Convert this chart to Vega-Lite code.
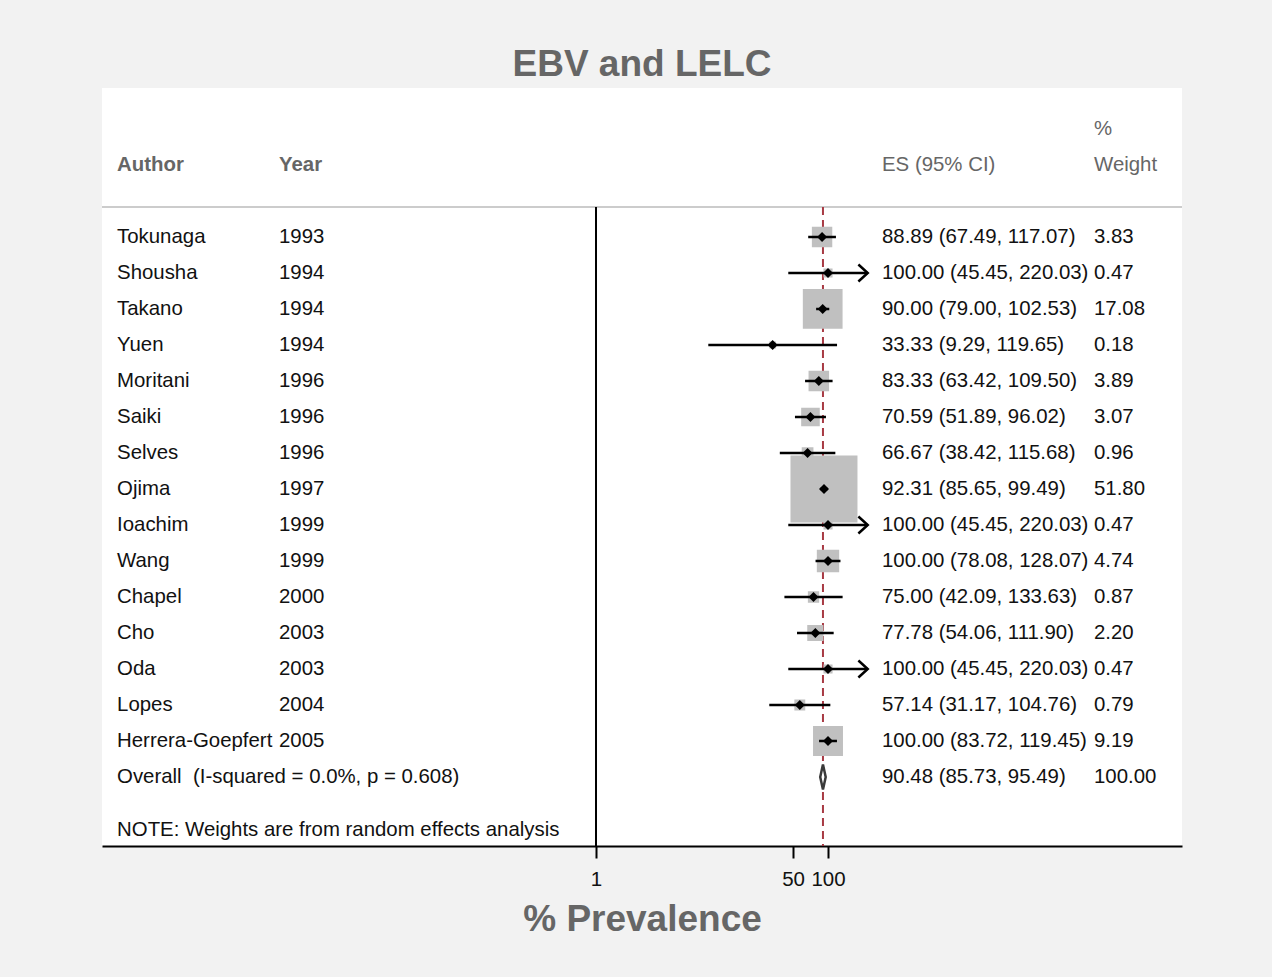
{
  "$schema": "https://vega.github.io/schema/vega-lite/v6.json",
  "width": 1080,
  "height": 758,
  "autosize": {"type": "none"},
  "padding": {"left": 102, "top": 88, "right": 90, "bottom": 131},
  "background": "#f2f2f2",
  "config": {
    "view": {"fill": "white", "stroke": null},
    "font": "Liberation Sans",
    "text": {"font": "Liberation Sans", "fontSize": 20.4, "baseline": "middle", "align": "left", "color": "#111111"}
  },
  "title": {
    "text": "EBV and LELC",
    "fontSize": 37,
    "fontWeight": "bold",
    "color": "#666666",
    "font": "Liberation Sans",
    "anchor": "middle",
    "baseline": "alphabetic",
    "offset": -25
  },
  "datasets": {
    "studies": [
      {"row": 1, "author": "Tokunaga", "year": "1993", "es": 88.89, "lcl": 67.49, "ucl": 117.07, "weight": 3.83, "type": "study"},
      {"row": 2, "author": "Shousha", "year": "1994", "es": 100.00, "lcl": 45.45, "ucl": 220.03, "weight": 0.47, "type": "study"},
      {"row": 3, "author": "Takano", "year": "1994", "es": 90.00, "lcl": 79.00, "ucl": 102.53, "weight": 17.08, "type": "study"},
      {"row": 4, "author": "Yuen", "year": "1994", "es": 33.33, "lcl": 9.29, "ucl": 119.65, "weight": 0.18, "type": "study"},
      {"row": 5, "author": "Moritani", "year": "1996", "es": 83.33, "lcl": 63.42, "ucl": 109.50, "weight": 3.89, "type": "study"},
      {"row": 6, "author": "Saiki", "year": "1996", "es": 70.59, "lcl": 51.89, "ucl": 96.02, "weight": 3.07, "type": "study"},
      {"row": 7, "author": "Selves", "year": "1996", "es": 66.67, "lcl": 38.42, "ucl": 115.68, "weight": 0.96, "type": "study"},
      {"row": 8, "author": "Ojima", "year": "1997", "es": 92.31, "lcl": 85.65, "ucl": 99.49, "weight": 51.80, "type": "study"},
      {"row": 9, "author": "Ioachim", "year": "1999", "es": 100.00, "lcl": 45.45, "ucl": 220.03, "weight": 0.47, "type": "study"},
      {"row": 10, "author": "Wang", "year": "1999", "es": 100.00, "lcl": 78.08, "ucl": 128.07, "weight": 4.74, "type": "study"},
      {"row": 11, "author": "Chapel", "year": "2000", "es": 75.00, "lcl": 42.09, "ucl": 133.63, "weight": 0.87, "type": "study"},
      {"row": 12, "author": "Cho", "year": "2003", "es": 77.78, "lcl": 54.06, "ucl": 111.90, "weight": 2.20, "type": "study"},
      {"row": 13, "author": "Oda", "year": "2003", "es": 100.00, "lcl": 45.45, "ucl": 220.03, "weight": 0.47, "type": "study"},
      {"row": 14, "author": "Lopes", "year": "2004", "es": 57.14, "lcl": 31.17, "ucl": 104.76, "weight": 0.79, "type": "study"},
      {"row": 15, "author": "Herrera-Goepfert", "year": "2005", "es": 100.00, "lcl": 83.72, "ucl": 119.45, "weight": 9.19, "type": "study"},
      {"row": 16, "author": "Overall \u00a0(I-squared = 0.0%, p = 0.608)", "year": "", "es": 90.48, "lcl": 85.73, "ucl": 95.49, "weight": 100.00, "type": "overall"}
    ]
  },
  "data": {"name": "studies"},
  "encoding": {
    "y": {
      "field": "row",
      "type": "quantitative",
      "scale": {"domain": [-3.139, 17.917], "reverse": true, "nice": false, "zero": false},
      "axis": null
    }
  },
  "layer": [
    {
      "transform": [{"filter": "datum.type === 'overall'"}],
      "mark": {"type": "rule", "color": "#cccccc", "strokeWidth": 2},
      "encoding": {"y": {"datum": 0.167}}
    },
    {
      "transform": [{"filter": "datum.type === 'overall'"}],
      "mark": {"type": "rule", "color": "#000000", "strokeWidth": 2},
      "encoding": {
        "x": {"datum": 1, "type": "quantitative"},
        "y": {"datum": 0.167},
        "y2": {"datum": 17.917}
      }
    },
    {
      "transform": [{"filter": "datum.type === 'overall'"}],
      "mark": {"type": "rule", "color": "#a83a44", "strokeWidth": 2, "strokeDash": [8, 5]},
      "encoding": {
        "x": {"field": "es", "type": "quantitative"},
        "y": {"datum": 0.167},
        "y2": {"datum": 17.917}
      }
    },
    {
      "transform": [{"filter": "datum.type === 'study'"}],
      "mark": {"type": "point", "shape": "square", "filled": true, "color": "#c0c0c0", "stroke": "#c0c0c0", "strokeWidth": 3, "opacity": 1},
      "encoding": {
        "x": {
          "field": "es",
          "type": "quantitative",
          "scale": {"type": "log", "domain": [0.00005512, 112640], "nice": false},
          "axis": {
            "values": [1, 50, 100],
            "format": "d",
            "title": "% Prevalence",
            "grid": false,
            "domainColor": "#000000",
            "domainWidth": 2,
            "tickColor": "#000000",
            "tickWidth": 2,
            "tickSize": 12,
            "labelFont": "Liberation Sans",
            "labelFontSize": 20.5,
            "labelColor": "#111111",
            "labelBaseline": "middle",
            "labelPadding": 21,
            "labelFlush": false,
            "labelOverlap": false,
            "titleFont": "Liberation Sans",
            "titleFontSize": 37,
            "titleFontWeight": "bold",
            "titleColor": "#666666",
            "titleBaseline": "alphabetic",
            "titleY": 84
          }
        },
        "size": {
          "field": "weight",
          "type": "quantitative",
          "scale": {"type": "linear", "domain": [0, 51.8], "range": [0, 4096], "zero": true},
          "legend": null
        }
      }
    },
    {
      "transform": [{"filter": "datum.type === 'study'"}],
      "mark": {"type": "rule", "color": "#000000", "strokeWidth": 2.5},
      "encoding": {
        "x": {"field": "lcl", "type": "quantitative"},
        "x2": {"field": "ucl"}
      }
    },
    {
      "transform": [{"filter": "datum.type === 'study' && datum.ucl > 200"}],
      "mark": {"type": "point", "shape": "M-1.1,-1L0,0L-1.1,1", "filled": false, "color": "#000000", "strokeWidth": 2.5, "size": 289, "opacity": 1},
      "encoding": {
        "x": {"field": "ucl", "type": "quantitative"}
      }
    },
    {
      "transform": [{"filter": "datum.type === 'study'"}],
      "mark": {"type": "point", "shape": "diamond", "filled": true, "color": "#000000", "size": 100, "opacity": 1},
      "encoding": {
        "x": {"field": "es", "type": "quantitative"}
      }
    },
    {
      "transform": [{"filter": "datum.type === 'overall'"}],
      "mark": {"type": "point", "shape": "M0,-1L0.22,0L0,1L-0.22,0Z", "filled": true, "fill": "white", "stroke": "#3a3a3a", "strokeWidth": 2.5, "size": 625, "opacity": 1},
      "encoding": {
        "x": {"field": "es", "type": "quantitative"}
      }
    },
    {
      "mark": {"type": "text"},
      "encoding": {
        "x": {"datum": 0.0000743, "type": "quantitative"},
        "text": {"field": "author"}
      }
    },
    {
      "mark": {"type": "text"},
      "encoding": {
        "x": {"datum": 0.00185, "type": "quantitative"},
        "text": {"field": "year"}
      }
    },
    {
      "transform": [
        {"calculate": "format(datum.es, '.2f') + ' (' + format(datum.lcl, '.2f') + ', ' + format(datum.ucl, '.2f') + ')'", "as": "ci_label"}
      ],
      "mark": {"type": "text"},
      "encoding": {
        "x": {"datum": 292.2, "type": "quantitative"},
        "text": {"field": "ci_label"}
      }
    },
    {
      "transform": [{"calculate": "format(datum.weight, '.2f')", "as": "w_label"}],
      "mark": {"type": "text"},
      "encoding": {
        "x": {"datum": 19641, "type": "quantitative"},
        "text": {"field": "w_label"}
      }
    },
    {
      "data": {"values": [
        {"label": "Author", "col": 0.0000743, "line": -1},
        {"label": "Year", "col": 0.00185, "line": -1}
      ]},
      "mark": {"type": "text", "fontWeight": "bold", "color": "#666666"},
      "encoding": {
        "x": {"field": "col", "type": "quantitative"},
        "y": {"field": "line", "type": "quantitative"},
        "text": {"field": "label"}
      }
    },
    {
      "data": {"values": [
        {"label": "ES (95% CI)", "col": 292.2, "line": -1},
        {"label": "Weight", "col": 19641, "line": -1},
        {"label": "%", "col": 19641, "line": -2}
      ]},
      "mark": {"type": "text", "color": "#666666"},
      "encoding": {
        "x": {"field": "col", "type": "quantitative"},
        "y": {"field": "line", "type": "quantitative"},
        "text": {"field": "label"}
      }
    },
    {
      "data": {"values": [
        {"label": "NOTE: Weights are from random effects analysis", "col": 0.0000743, "line": 17.47}
      ]},
      "mark": {"type": "text"},
      "encoding": {
        "x": {"field": "col", "type": "quantitative"},
        "y": {"field": "line", "type": "quantitative"},
        "text": {"field": "label"}
      }
    }
  ]
}
